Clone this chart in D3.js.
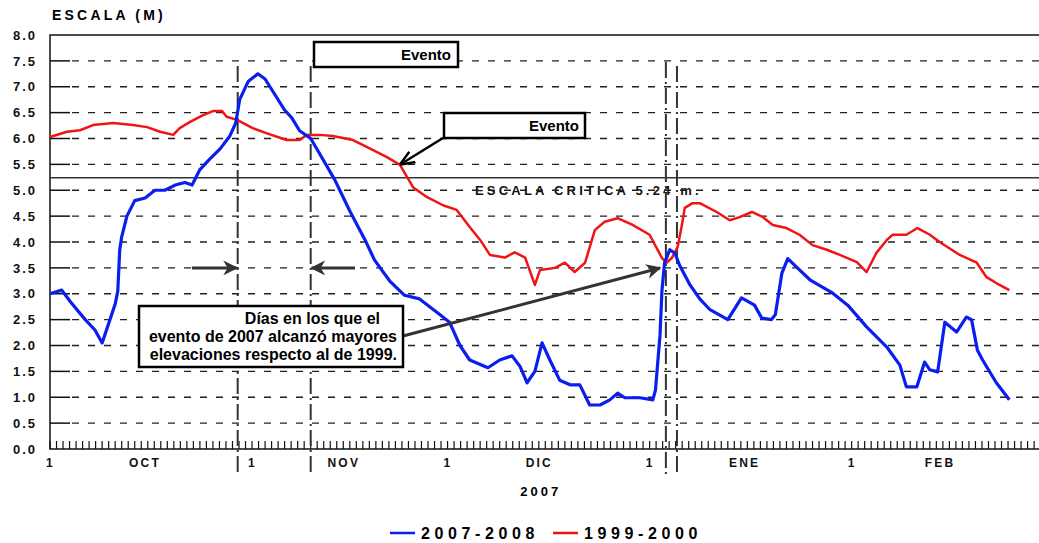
<!DOCTYPE html>
<html>
<head>
<meta charset="utf-8">
<script src="https://cdn.jsdelivr.net/npm/d3@7"></script>
<style>
    body { margin: 0; background: #fff; }
    svg { font-family: "Liberation Sans", Arial, sans-serif; }
</style>
</head>
<body>
<script>
// days counted from 1 Oct 2007
var blueDays = [0, 1.8, 3.1, 5.4, 6.9, 8.0, 9.2, 10.0, 10.4, 10.7, 11.0, 11.8, 13.0, 14.6, 16.1, 17.6, 19.2, 20.7, 21.8, 23.0,
    24.5, 26.1, 27.6, 28.5, 29.1, 30.4, 31.9, 33.0, 34.5, 36.0, 37.1, 38.3, 40.0, 41.4, 43.7, 46.0, 48.3, 49.8, 52.1, 54.4,
    56.7, 59.8, 61.3, 62.9, 64.4, 67.2, 69.0, 70.9, 72.1, 73.2, 74.4, 75.5, 76.7, 78.2, 79.8, 81.3, 82.8, 84.4, 85.9, 87.1,
    88.2, 90.5, 92.5, 92.9, 93.6, 93.9, 94.3, 95.1, 95.9, 96.6, 98.2, 99.7, 101.2, 104.0, 106.1, 108.1, 109.2, 110.7, 111.3, 112.3,
    113.2, 115.0, 116.6, 120.1, 122.4, 125.3, 128.4, 130.4, 131.4, 133.0, 134.2, 135.0, 136.2, 137.3, 139.1, 140.6, 141.4, 142.3, 143.1, 145.2,
    147.2];
var blueVals = [3.0, 3.07, 2.85, 2.5, 2.3, 2.05, 2.5, 2.8, 3.05, 3.85, 4.1, 4.5, 4.8, 4.85, 5.0, 5.0, 5.1, 5.15, 5.1, 5.4,
    5.6, 5.8, 6.05, 6.3, 6.75, 7.1, 7.25, 7.15, 6.85, 6.55, 6.4, 6.15, 6.0, 5.7, 5.2, 4.6, 4.05, 3.65, 3.25, 2.97,
    2.9, 2.6, 2.45, 2.0, 1.72, 1.57, 1.72, 1.8, 1.6, 1.28, 1.5, 2.05, 1.72, 1.33, 1.24, 1.24, 0.85, 0.85, 0.95, 1.08,
    0.99, 0.99, 0.95, 1.14, 2.2, 3.07, 3.6, 3.85, 3.78, 3.55, 3.17, 2.9, 2.7, 2.5, 2.92, 2.78, 2.53, 2.5, 2.6, 3.4,
    3.68, 3.46, 3.27, 3.01, 2.78, 2.36, 1.97, 1.62, 1.2, 1.2, 1.68, 1.53, 1.49, 2.45, 2.26, 2.55, 2.5, 1.91, 1.72, 1.28,
    0.95];

var redDays = [0, 2.6, 4.6, 6.6, 9.7, 12.7, 14.9, 16.9, 18.9, 19.9, 21.5, 23.5, 25.0, 26.4, 27.1, 28.7, 31.1, 33.3, 36.3, 38.3,
    39.4, 41.4, 43.4, 46.5, 49.5, 51.7, 53.7, 55.7, 57.8, 60.3, 62.4, 64.4, 66.0, 67.5, 69.8, 71.3, 72.9, 74.4, 75.2, 77.5,
    79.0, 80.5, 82.1, 83.6, 85.1, 87.1, 89.4, 92.0, 93.9, 94.6, 95.4, 96.3, 96.9, 97.4, 98.6, 99.7, 102.3, 104.3, 105.8, 107.7,
    109.4, 110.9, 113.0, 115.0, 117.0, 119.2, 121.2, 123.8, 125.3, 126.8, 128.4, 129.3, 131.4, 133.1, 135.0, 136.5, 139.6, 142.2, 143.7, 145.7,
    147.2];
var redVals = [6.03, 6.13, 6.16, 6.26, 6.3, 6.26, 6.22, 6.13, 6.07, 6.2, 6.32, 6.45, 6.53, 6.53, 6.42, 6.36, 6.2, 6.1, 5.97, 5.97,
    6.07, 6.07, 6.05, 5.97, 5.78, 5.64, 5.49, 5.06, 4.87, 4.71, 4.62, 4.29, 4.04, 3.75, 3.7, 3.8, 3.7, 3.17, 3.46, 3.5,
    3.6, 3.42, 3.6, 4.23, 4.39, 4.46, 4.33, 4.14, 3.69, 3.6, 3.69, 3.9, 4.29, 4.66, 4.75, 4.75, 4.58, 4.42, 4.48, 4.58,
    4.48, 4.33, 4.27, 4.14, 3.94, 3.85, 3.75, 3.61, 3.42, 3.79, 4.04, 4.14, 4.14, 4.27, 4.14, 4.0, 3.75, 3.6, 3.32, 3.17,
    3.07];

var yTicks = [0, 0.5, 1, 1.5, 2, 2.5, 3, 3.5, 4, 4.5, 5, 5.5, 6, 6.5, 7, 7.5, 8];
var monthStarts = [0, 31, 61, 92, 123];
var monthMids = [14.5, 45, 75, 106.5, 136.5];
var monthNames = ["OCT", "NOV", "DIC", "ENE", "FEB"];
var eventDays = [28.8, 40.0, 94.5, 96.2];
var criticalLevel = 5.24;
var seriesNames = ["2007-2008", "1999-2000"];
var seriesColors = ["#0a1ef0", "#f01414"];

var width = 1039, height = 543;
var x = d3.scaleLinear().domain([0, 151.75]).range([50, 1039]);
var y = d3.scaleLinear().domain([0, 8]).range([449, 35]);

var svg = d3.select("body").append("svg")
    .attr("width", width)
    .attr("height", height);

var defs = svg.append("defs");
defs.append("marker")
    .attr("id", "head")
    .attr("viewBox", "0 0 10 10")
    .attr("refX", 9).attr("refY", 5)
    .attr("markerWidth", 5).attr("markerHeight", 5)
    .attr("markerUnits", "strokeWidth")
    .attr("orient", "auto")
    .append("path").attr("d", "M0,0 L10,5 L0,10 L3,5 Z").attr("fill", "#333");
defs.append("marker")
    .attr("id", "vhead")
    .attr("viewBox", "0 0 10 10")
    .attr("refX", 9).attr("refY", 5)
    .attr("markerWidth", 6).attr("markerHeight", 6)
    .attr("markerUnits", "strokeWidth")
    .attr("orient", "auto")
    .append("path").attr("d", "M0,1 L10,5 L0,9").attr("fill", "none").attr("stroke", "#000").attr("stroke-width", 1.6);

// title
svg.append("text")
    .attr("x", 52).attr("y", 20)
    .style("font-size", "14px").style("font-weight", "bold").style("letter-spacing", "3.2px")
    .text("ESCALA (M)");

// critical level text (grid runs over it)
svg.append("text")
    .attr("x", 475).attr("y", 195)
    .style("font-size", "13px").style("font-weight", "bold").style("letter-spacing", "3.2px")
    .attr("fill", "#111")
    .text("ESCALA CRITICA 5.24  m.");

// gridlines
svg.append("g").selectAll("line.grid")
    .data(yTicks.filter(function(d) { return d > 0 && d < 8; }))
    .enter().append("line")
        .attr("x1", 72).attr("x2", width)
        .attr("y1", function(d) { return y(d); })
        .attr("y2", function(d) { return y(d); })
        .attr("stroke", "#222")
        .attr("stroke-width", 1.3)
        .attr("stroke-dasharray", "7,9");

// solid inner ticks
svg.append("g").selectAll("line")
    .data(yTicks.filter(function(d) { return d > 0 && d < 8; }))
    .enter().append("line")
        .attr("x1", 50).attr("x2", 70)
        .attr("y1", function(d) { return y(d); })
        .attr("y2", function(d) { return y(d); })
        .attr("stroke", "#111").attr("stroke-width", 1.5);

// y labels
var yAxis = d3.axisLeft(y)
    .tickValues(yTicks)
    .tickSize(0)
    .tickPadding(13)
    .tickFormat(d3.format(".1f"));
var gy = svg.append("g").attr("transform", "translate(50,0)").call(yAxis);
gy.select(".domain").remove();
gy.selectAll("text")
    .style("font-size", "13px").style("font-weight", "bold").style("letter-spacing", "2px")
    .attr("fill", "#111")
    .attr("font-family", null);

// frame
svg.append("path")
    .attr("d", "M" + width + "," + y(8) + " H50 V" + y(0) + " H" + width)
    .attr("fill", "none").attr("stroke", "#111").attr("stroke-width", 1.5);

// daily minor ticks
svg.append("g").selectAll("line")
    .data(d3.range(0, 152))
    .enter().append("line")
        .attr("x1", function(d) { return x(d); })
        .attr("x2", function(d) { return x(d); })
        .attr("y1", y(0)).attr("y2", y(0) - 8)
        .attr("stroke", "#111").attr("stroke-width", 1.2);

// x labels
var xLabels = monthStarts.map(function(d) { return { day: d, label: "1" }; })
    .concat(monthMids.map(function(d, i) { return { day: d, label: monthNames[i] }; }));
var xAxis = d3.axisBottom(x)
    .tickValues(xLabels.map(function(d) { return d.day; }))
    .tickSize(0)
    .tickPadding(9)
    .tickFormat(function(d) {
        var m = xLabels.find(function(l) { return l.day === d; });
        return m.label;
    });
var gx = svg.append("g").attr("transform", "translate(0," + y(0) + ")").call(xAxis);
gx.select(".domain").remove();
gx.selectAll("text")
    .style("font-size", "12px").style("font-weight", "bold").style("letter-spacing", "2.2px")
    .attr("fill", "#111")
    .attr("font-family", null);

svg.append("text")
    .attr("x", x(75.3)).attr("y", 496)
    .attr("text-anchor", "middle")
    .style("font-size", "13px").style("font-weight", "bold").style("letter-spacing", "3px")
    .text("2007");

// critical level
svg.append("line")
    .attr("x1", 50).attr("x2", width)
    .attr("y1", y(criticalLevel)).attr("y2", y(criticalLevel))
    .attr("stroke", "#333").attr("stroke-width", 1.5);

// event lines
svg.append("g").selectAll("line")
    .data(eventDays)
    .enter().append("line")
        .attr("x1", function(d) { return x(d); })
        .attr("x2", function(d) { return x(d); })
        .attr("y1", function(d, i) { return i === 2 ? 62 : 66; })
        .attr("y2", 474)
        .attr("stroke", "#333")
        .attr("stroke-width", 2)
        .attr("stroke-dasharray", "16,4,2,4");

// series
var line = d3.line()
    .x(function(d) { return x(d[0]); })
    .y(function(d) { return y(d[1]); });

svg.append("path")
    .datum(d3.zip(redDays, redVals))
    .attr("d", line)
    .attr("fill", "none").attr("stroke", seriesColors[1]).attr("stroke-width", 2.5)
    .attr("stroke-linejoin", "round");
svg.append("path")
    .datum(d3.zip(blueDays, blueVals))
    .attr("d", line)
    .attr("fill", "none").attr("stroke", seriesColors[0]).attr("stroke-width", 3.2)
    .attr("stroke-linejoin", "round");

// arrows
function arrow(x1, y1, x2, y2, w, marker, color) {
    svg.append("line")
        .attr("x1", x1).attr("y1", y1).attr("x2", x2).attr("y2", y2)
        .attr("stroke", color).attr("stroke-width", w)
        .attr("marker-end", "url(#" + marker + ")");
}
arrow(192, y(3.5), x(eventDays[0]) - 1, y(3.5), 3, "head", "#333");
arrow(355, y(3.5), x(eventDays[1]) + 1, y(3.5), 3, "head", "#333");
arrow(403, 336, 660, 268, 3, "head", "#333");
arrow(443, 138, 401, 164, 2.5, "vhead", "#000");

// boxes
function box(x0, y0, w, h, lines, size) {
    svg.append("rect")
        .attr("x", x0).attr("y", y0).attr("width", w).attr("height", h)
        .attr("fill", "#fff").attr("stroke", "#000").attr("stroke-width", 2.5);
    lines.forEach(function(t) {
        svg.append("text")
            .attr("x", t.x).attr("y", y0 + t.dy)
            .attr("text-anchor", "end")
            .style("font-size", size + "px")
            .style("font-weight", "bold")
            .text(t.s);
    });
}
box(314, 42, 144, 25, [{ s: "Evento", x: 451, dy: 18 }], 15);
box(444, 113, 141, 25, [{ s: "Evento", x: 579, dy: 18 }], 15);
box(139, 306, 264, 61, [
    { s: "Días en los que el", x: 380, dy: 18 },
    { s: "evento de 2007 alcanzó mayores", x: 397, dy: 36 },
    { s: "elevaciones respecto al de 1999.", x: 397, dy: 54 }
], 16);

// legend
var legend = svg.append("g").selectAll("g")
    .data(seriesNames)
    .enter().append("g")
        .attr("transform", function(d, i) { return "translate(" + (390 + i * 163) + ",533)"; });
legend.append("line")
    .attr("x1", 0).attr("x2", 25).attr("y1", 0).attr("y2", 0)
    .attr("stroke", function(d, i) { return seriesColors[i]; })
    .attr("stroke-width", 2.5);
legend.append("text")
    .attr("x", 31).attr("y", 6)
    .style("font-size", "16px").style("font-weight", "bold").style("letter-spacing", "4.6px")
    .text(function(d) { return d; });
</script>
</body>
</html>
